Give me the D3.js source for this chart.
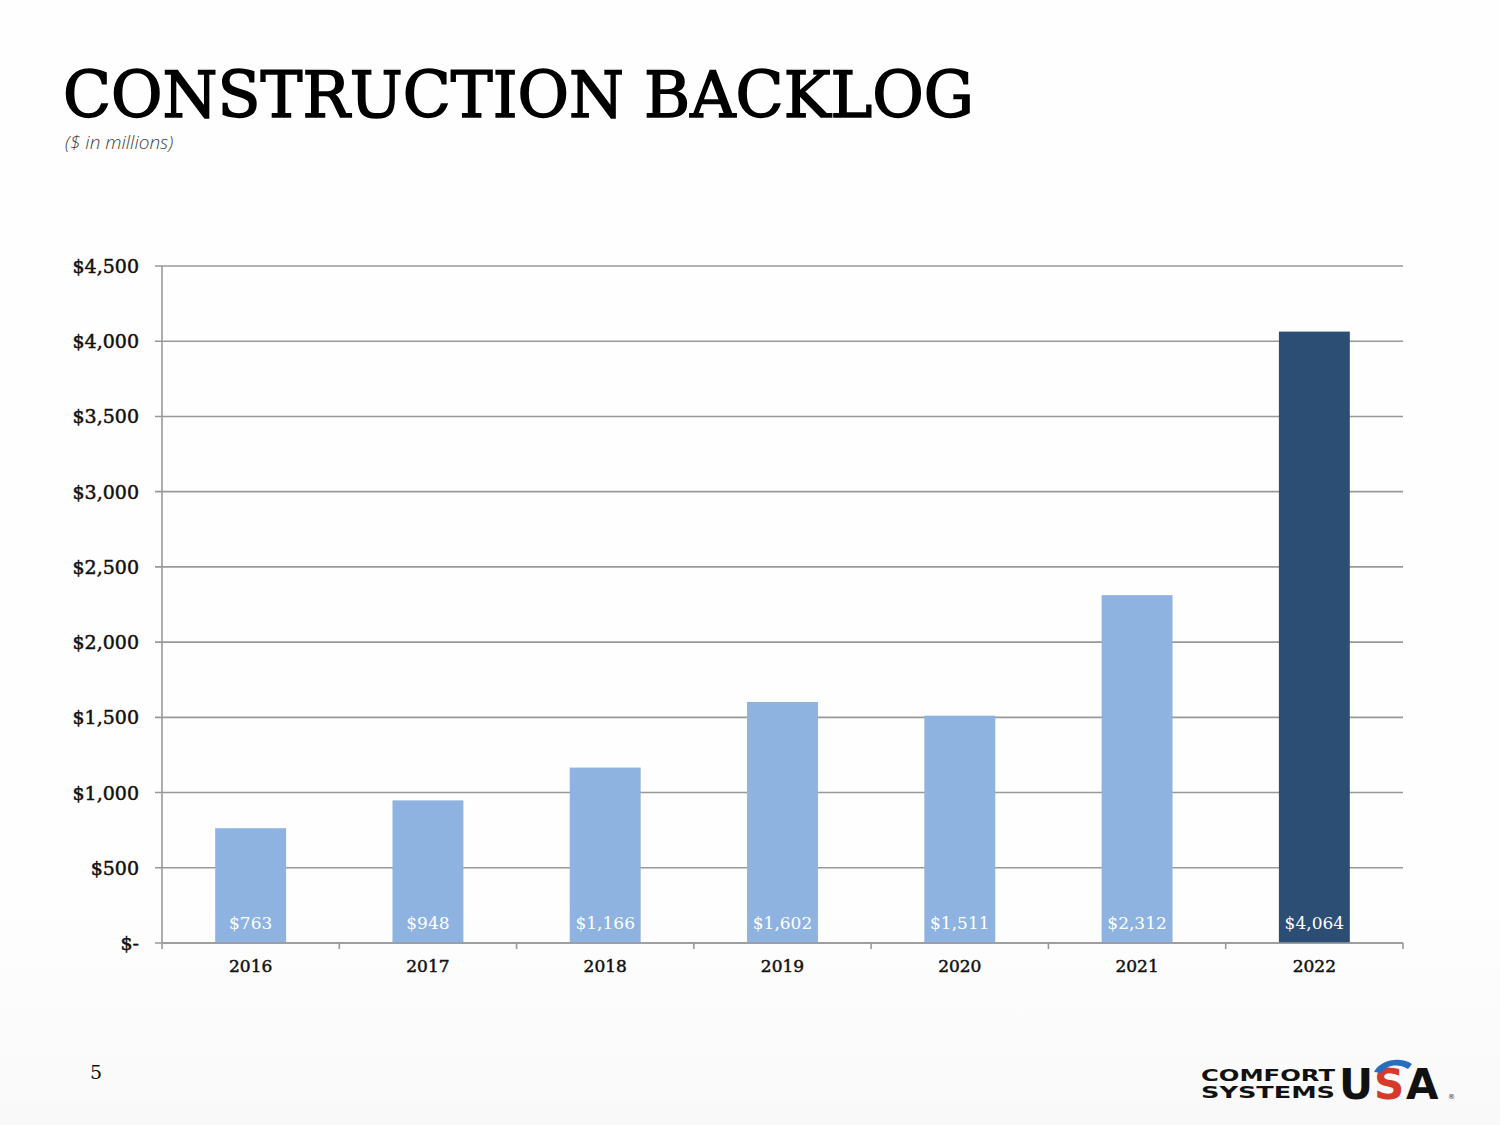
<!DOCTYPE html>
<html><head><meta charset="utf-8">
<script src="https://cdn.jsdelivr.net/npm/d3@7"></script>
<style>
html,body{margin:0;padding:0;background:#fff;}
svg{display:block;}
</style></head>
<body>
<script>
const categories = ["2016","2017","2018","2019","2020","2021","2022"];
const values = [763, 948, 1166, 1602, 1511, 2312, 4064];
const valueLabels = ["$763","$948","$1,166","$1,602","$1,511","$2,312","$4,064"];
const yTicks = [0,500,1000,1500,2000,2500,3000,3500,4000,4500];
const yTickLabels = ["$-","$500","$1,000","$1,500","$2,000","$2,500","$3,000","$3,500","$4,000","$4,500"];
const highlight = ["2022"];

(function(){
const W = 1500, H = 1125;
const svg = d3.select("body").append("svg").attr("width", W).attr("height", H);

const defs = svg.append("defs");
const grad = defs.append("linearGradient").attr("id","bg").attr("x1",0).attr("y1",0).attr("x2",0).attr("y2",1);
grad.append("stop").attr("offset","0%").attr("stop-color","#fefefe");
grad.append("stop").attr("offset","80%").attr("stop-color","#fefefe");
grad.append("stop").attr("offset","100%").attr("stop-color","#f9f9f9");
svg.append("rect").attr("width",W).attr("height",H).attr("fill","url(#bg)");

const serif = "'DejaVu Serif', 'Liberation Serif', serif";

svg.append("text").attr("x",63).attr("y",117)
  .attr("font-family",serif).attr("font-size",63).attr("fill","#000")
  .attr("stroke","#000").attr("stroke-width",1.6)
  .attr("textLength",911).attr("lengthAdjust","spacingAndGlyphs")
  .text("CONSTRUCTION BACKLOG");
svg.append("text").attr("x",65).attr("y",149)
  .attr("font-family","'Open Sans', sans-serif").attr("font-style","italic").attr("font-weight",300)
  .attr("font-size",19).attr("fill","#444")
  .text("($ in millions)");

const pLeft = 162, pRight = 1403, pTop = 266, pBottom = 943;
const x = d3.scaleBand().domain(categories).range([pLeft, pRight]).paddingInner(0.6).paddingOuter(0.3);
const y = d3.scaleLinear().domain([0, 4500]).range([pBottom, pTop]);

const g = svg.append("g");
g.selectAll("line.grid").data(yTicks).join("line")
  .attr("x1", pLeft - 7).attr("x2", pRight)
  .attr("y1", d => y(d)).attr("y2", d => y(d))
  .attr("stroke", "#999").attr("stroke-width", 1.6);

g.append("line").attr("x1",pLeft).attr("x2",pLeft).attr("y1",pTop).attr("y2",pBottom)
  .attr("stroke","#999").attr("stroke-width",1.6);

g.selectAll("text.ylab").data(yTicks).join("text")
  .attr("x", 139).attr("y", d => y(d) + 7)
  .attr("text-anchor","end").attr("font-family",serif).attr("font-size",19).attr("fill","#111")
  .attr("stroke","#111").attr("stroke-width",0.5)
  .text((d,i) => yTickLabels[i]);

g.selectAll("rect.bar").data(categories).join("rect")
  .attr("x", d => x(d)).attr("width", x.bandwidth())
  .attr("y", (d,i) => y(values[i])).attr("height", (d,i) => pBottom - y(values[i]))
  .attr("fill", d => highlight.includes(d) ? "#2c4d74" : "#8eb3e1");

const boundaries = d3.range(categories.length + 1).map(i => pLeft + i * (pRight - pLeft) / categories.length);
g.append("line").attr("x1",pLeft).attr("x2",pRight).attr("y1",pBottom).attr("y2",pBottom)
  .attr("stroke","#999").attr("stroke-width",1.6);
g.selectAll("line.xt").data(boundaries).join("line")
  .attr("x1", d => d).attr("x2", d => d).attr("y1", pBottom).attr("y2", pBottom + 6)
  .attr("stroke","#999").attr("stroke-width",1.6);

g.selectAll("text.xlab").data(categories).join("text")
  .attr("x", d => x(d) + x.bandwidth()/2).attr("y", 972)
  .attr("text-anchor","middle").attr("font-family",serif).attr("font-size",17).attr("fill","#111")
  .attr("stroke","#111").attr("stroke-width",0.5)
  .text(d => d);

g.selectAll("text.vlab").data(categories).join("text")
  .attr("x", d => x(d) + x.bandwidth()/2).attr("y", 929)
  .attr("text-anchor","middle").attr("font-family",serif).attr("font-size",17).attr("fill","#fff")
  .text((d,i) => valueLabels[i]);

svg.append("text").attr("x",96).attr("y",1079).attr("text-anchor","middle")
  .attr("font-family",serif).attr("font-size",19).attr("fill","#111").text("5");

const logo = svg.append("g");
const sans = "'DejaVu Sans', 'Liberation Sans', sans-serif";
logo.append("text").attr("x",1201).attr("y",1081).attr("font-family",sans).attr("font-weight",900)
  .attr("font-size",16).attr("textLength",134).attr("lengthAdjust","spacingAndGlyphs").attr("fill","#111").text("COMFORT");
logo.append("text").attr("x",1201).attr("y",1098).attr("font-family",sans).attr("font-weight",900)
  .attr("font-size",16).attr("textLength",134).attr("lengthAdjust","spacingAndGlyphs").attr("fill","#111").text("SYSTEMS");
logo.append("text").attr("x",1339).attr("y",1099).attr("font-family",sans).attr("font-weight",900)
  .attr("font-size",42).attr("fill","#111").text("U");
logo.append("text").attr("x",1374).attr("y",1099).attr("font-family",sans).attr("font-weight",900)
  .attr("font-size",42).attr("fill","#d63a2a").text("S");
logo.append("path").attr("d","M1374,1072 C1380,1060 1400,1056 1412,1064 L1408,1069 C1398,1063 1386,1065 1382,1073 Z").attr("fill","#2a6cc0");
logo.append("text").attr("x",1406).attr("y",1099).attr("font-family",sans).attr("font-weight",900)
  .attr("font-size",42).attr("fill","#111").text("A");
logo.append("text").attr("x",1448).attr("y",1099).attr("font-family",sans)
  .attr("font-size",7).attr("fill","#333").text("®");
})();
</script>
</body></html>
